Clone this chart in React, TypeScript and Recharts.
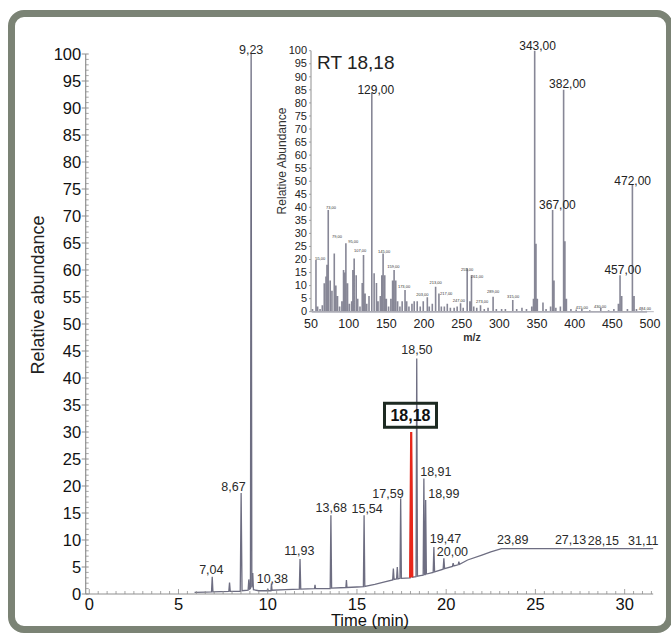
import React from "react";
import { ComposedChart, Line, Scatter, XAxis, YAxis } from "recharts";

const W = 671;
const H = 634;

// ---- chromatogram (time in min, relative abundance %) ----
const traceTime = [
  5.9, 6.5, 6.85, 6.89, 6.93, 7.82, 7.86, 7.9, 8.46, 8.51, 8.56, 8.9, 8.94, 8.98,
  9.03, 9.07, 9.11, 9.16, 9.2, 9.5, 9.97, 10.0, 10.03, 10.18, 10.21, 10.24, 11.0,
  11.77, 11.81, 11.85, 12.62, 12.65, 12.68, 13.5, 13.54, 13.58, 14.38, 14.41, 14.44,
  15.0, 15.36, 15.4, 15.44, 16.0, 16.5, 17.0, 17.04, 17.08, 17.22, 17.26, 17.3,
  17.41, 17.45, 17.49, 17.98, 18.04, 18.1, 18.31, 18.35, 18.39, 18.55, 18.71, 18.75,
  18.79, 18.82, 18.85, 18.89, 19.27, 19.31, 19.35, 19.83, 19.87, 19.91, 20.35, 20.39,
  20.43, 20.67, 20.71, 20.75, 21.2, 22.0, 22.5, 23.1, 31.6,
];
const traceAbund = [
  0.3, 0.35, 0.4, 3.2, 0.4, 0.5, 2.1, 0.5, 0.5, 18.7, 0.6, 0.7, 2.7, 0.9,
  1.0, 100, 1.2, 3.9, 0.8, 0.6, 0.6, 1.0, 0.6, 0.6, 2.0, 0.7, 0.8,
  0.9, 6.5, 0.9, 1.0, 1.7, 1.0, 1.0, 14.6, 1.1, 1.2, 2.6, 1.2,
  1.3, 1.35, 14.6, 1.4, 1.8, 2.2, 2.6, 4.7, 2.7, 2.8, 5.0, 2.8,
  2.9, 17.7, 2.9, 3.0, 30.0, 3.1, 3.2, 43.6, 3.3, 3.4, 3.5, 21.4,
  3.6, 3.6, 17.4, 3.7, 4.0, 8.7, 4.1, 4.6, 6.6, 4.7, 5.1, 5.7,
  5.2, 5.4, 6.0, 5.5, 6.3, 7.2, 7.8, 8.4, 8.4,
];

// peak at RT 18,18 highlighted in red
const redTime = [17.98, 18.04, 18.1];
const redAbund = [3.0, 30.0, 3.1];

// peak labels, placed just above the point given
const peakLabels = [
  "7,04", "8,67", "9,23", "10,38", "11,93", "13,68", "15,54", "17,59", "18,50",
  "18,91", "18,99", "19,47", "20,00", "23,89", "27,13", "28,15", "31,11",
];
const peakLabelTime = [
  6.84, 8.08, 9.07, 10.26, 11.77, 13.56, 15.57, 16.74, 18.36,
  19.42, 19.87, 19.96, 20.35, 23.73, 26.97, 28.81, 31.04,
];
const peakLabelAbund = [
  3.3, 18.6, 99.6, 1.5, 6.7, 14.7, 14.6, 17.4, 43.9,
  21.4, 17.4, 9.0, 6.5, 8.8, 8.8, 8.7, 8.6,
];
const boxedLabel = { t: 18.0, ab: 33.1, label: "18,18" };

const mainYTicks = Array.from({ length: 101 }, (_, i) => i);
const mainXTicks = Array.from({ length: 64 }, (_, i) => i * 0.5);

// ---- mass spectrum at RT 18,18 (m/z, relative abundance %) ----
const msMz = [
  52, 56.6, 58.8, 62, 65, 67.6, 69.9, 71.2, 72.9, 75.5, 77.8, 80.9, 83, 85.2, 88, 91,
  93.2, 94.8, 96.3, 98.5, 101, 104, 105.6, 107.3, 110, 112, 115, 118, 119.7, 121.8,
  124, 127, 130.7, 133.8, 136.9, 139, 142, 144, 145.7, 147.9, 150, 153, 156, 158.3,
  160.3, 162.5, 165, 168, 171, 174.8, 177, 180, 184, 187, 191, 195, 199, 204.4, 207,
  211, 215.4, 219.8, 223, 227, 230.9, 235, 240, 244, 248.5, 252, 257.3, 260.9, 263,
  266, 270, 275, 280, 285, 291.7, 296, 303, 308, 317.8, 323, 330, 336, 343, 345.3,
  346.9, 348.6, 350.4, 357.9, 362, 368, 370.7, 372.5, 375, 381, 385.3, 387, 389, 395,
  402, 409.5, 420, 434.6, 445, 452, 458, 460.2, 462.4, 470, 476.6, 478.8, 482, 488.9,
  495,
];
const msInt = [
  1, 19.8, 2, 1, 2.5, 10.9, 13.5, 18, 39, 12, 8, 22.3, 10, 6, 2, 4,
  16, 15, 26.2, 10.9, 3, 4, 16, 20.4, 14, 5, 2, 11, 21.7, 7,
  3, 6, 84, 14.7, 11, 4, 6, 14, 22.3, 14, 5, 2, 5, 12,
  16, 12, 4, 2, 4, 8.3, 4, 2, 3, 4, 4, 2, 4, 5.5, 2,
  3, 9.6, 7, 2, 2, 3, 1.5, 1.5, 2, 3.2, 1.5, 16.6, 4, 14,
  2, 1.5, 2.5, 1, 1.5, 5.7, 1, 1, 1, 4.5, 1, 1.5, 1, 2, 5,
  100, 26, 5, 3.5, 1, 2, 39, 12, 1.5, 2, 85, 27, 5, 1,
  0.8, 1, 0.6, 1.5, 0.6, 1, 3, 14, 6, 1, 48.5, 6, 1, 0.5,
  0.3,
];

const msMajorLabels = ["129,00", "343,00", "382,00", "367,00", "472,00", "457,00"];
const msMajorMz = [136, 350.8, 390.3, 377.1, 477, 463.8];
const msMajorInt = [82.2, 99.1, 84.5, 38.2, 47.7, 13.5];

const msMinorLabels = [
  "55,00", "73,00", "79,00", "95,00", "107,00", "145,00", "159,00", "173,00", "203,00",
  "213,00", "217,00", "247,00", "255,00", "261,00", "273,00", "289,00", "315,00",
  "415,00", "430,00", "484,00",
];
const msMinorMz = [
  62.3, 76.5, 84.4, 106, 115.3, 147, 159.4, 173.5, 197.8,
  215.4, 229.5, 246.3, 257.3, 270.6, 277.2, 291.7, 318.2,
  409.5, 433.8, 493.3,
];
const msMinorInt = [
  19.1, 38.6, 27.4, 25.7, 21.9, 21.6, 15.9, 8.2, 5.3,
  9.9, 5.7, 2.9, 14.9, 12.1, 2.5, 6.3, 4.4,
  0.3, 0.6, 0,
];

const msYTicks = Array.from({ length: 21 }, (_, i) => i * 5);
const msXTicks = [50, 100, 150, 200, 250, 300, 350, 400, 450, 500];

const FONT = "'Liberation Sans', Arial, sans-serif";
const TRACE = "#6e6e82";
const STICK = "#878796";
const AXIS = "#8f8f8f";

const traceData = traceTime.map((t, i) => ({ t, ab: traceAbund[i] }));
const redData = redTime.map((t, i) => ({ t, ab: redAbund[i] }));
const peakLabelData = peakLabels.map((label, i) => ({ t: peakLabelTime[i], ab: peakLabelAbund[i], label }));

// each stick is drawn as baseline -> top -> baseline
const msData = msMz.flatMap((mz, i) => [
  { mz, int: 0 },
  { mz, int: msInt[i] },
  { mz, int: 0 },
]);
const msMajorData = msMajorLabels.map((label, i) => ({ mz: msMajorMz[i], int: msMajorInt[i], label }));
const msMinorData = msMinorLabels.map((label, i) => ({ mz: msMinorMz[i], int: msMinorInt[i], label }));

const MainYTick = (p: any) => {
  const { x, y, payload } = p;
  const v = payload.value;
  if (v % 5 !== 0) {
    return <line x1={x} x2={x + 3} y1={y} y2={y} stroke={AXIS} strokeWidth={0.8} />;
  }
  return (
    <g>
      <line x1={x - 4} x2={x + 3} y1={y} y2={y} stroke={AXIS} strokeWidth={1} />
      <text x={x - 4.5} y={y} dy="0.36em" textAnchor="end" fontSize={16.5} fill="#111" fontFamily={FONT}>
        {v}
      </text>
    </g>
  );
};

const MainXTick = (p: any) => {
  const { x, y, payload } = p;
  const v = payload.value;
  const major = v % 5 === 0;
  return (
    <g>
      <line x1={x} x2={x} y1={y} y2={y - (major ? 5 : 3)} stroke={AXIS} strokeWidth={0.8} />
      {major && (
        <text x={x} y={y + 15.5} textAnchor="middle" fontSize={16.5} fill="#111" fontFamily={FONT}>
          {v}
        </text>
      )}
    </g>
  );
};

const MsYTick = (p: any) => {
  const { x, y, payload } = p;
  return (
    <g>
      <line x1={x - 2} x2={x} y1={y} y2={y} stroke={AXIS} strokeWidth={0.8} />
      <text x={x - 4} y={y} dy="0.34em" textAnchor="end" fontSize={11} fill="#222" fontFamily={FONT}>
        {payload.value}
      </text>
    </g>
  );
};

const MsXTick = (p: any) => {
  const { x, y, payload } = p;
  return (
    <text x={x} y={y + 11.8} dy="0.36em" textAnchor="middle" fontSize={12.5} fill="#222" fontFamily={FONT}>
      {payload.value}
    </text>
  );
};

const peakLabel = (p: any) => (
  <text x={p.cx} y={p.cy - 7} dy="0.36em" textAnchor="middle" fontSize={12.5} fill="#2a2a2a" fontFamily={FONT}>
    {p.payload.label}
  </text>
);

const boxLabel = (p: any) => (
  <g>
    <rect x={p.cx - 26} y={p.cy - 12} width={52} height={24} fill="none" stroke="#1d2a22" strokeWidth={3} />
    <text x={p.cx} y={p.cy} dy="0.36em" textAnchor="middle" fontSize={16} fontWeight="bold" fill="#111" fontFamily={FONT}>
      {p.payload.label}
    </text>
  </g>
);

const msMajorLabel = (p: any) => (
  <text x={p.cx} y={p.cy - 7} dy="0.36em" textAnchor="middle" fontSize={12} fill="#222" fontFamily={FONT}>
    {p.payload.label}
  </text>
);

const msMinorLabel = (p: any) => (
  <text x={p.cx} y={p.cy - 3.5} dy="0.36em" textAnchor="middle" fontSize={4} fill="#333" fontFamily={FONT}>
    {p.payload.label}
  </text>
);

export default function App() {
  return (
    <div style={{ position: "absolute", left: 0, top: 0, width: W, height: H, overflow: "hidden", background: "#fff" }}>
      <div
        style={{
          position: "absolute",
          left: 8,
          top: 10,
          width: 665,
          height: 623,
          border: "7px solid #7b8375",
          borderRadius: 16,
          boxSizing: "border-box",
          background: "#fff",
        }}
      />

      {/* chromatogram */}
      <div style={{ position: "absolute", left: 0, top: 0 }}>
        <ComposedChart width={W} height={H} margin={{ top: 54, right: 17.8, bottom: 39, left: 84.7 }}>
          <XAxis
            dataKey="t"
            type="number"
            domain={[-0.2, 31.5]}
            ticks={mainXTicks}
            interval={0}
            height={1}
            tickSize={0}
            tickMargin={0}
            tickLine={false}
            tick={<MainXTick />}
            axisLine={{ stroke: AXIS, strokeWidth: 1.2 }}
          />
          <YAxis
            dataKey="ab"
            type="number"
            domain={[0, 100]}
            ticks={mainYTicks}
            interval={0}
            width={1}
            tickSize={0}
            tickMargin={0}
            tickLine={false}
            tick={<MainYTick />}
            axisLine={{ stroke: AXIS, strokeWidth: 1.2 }}
          />
          <Line data={traceData} dataKey="ab" type="linear" stroke={TRACE} strokeWidth={1.3} dot={false} isAnimationActive={false} />
          <Line data={redData} dataKey="ab" type="linear" stroke="#e8261a" strokeWidth={2.2} dot={false} isAnimationActive={false} />
          <Scatter data={peakLabelData} dataKey="ab" shape={peakLabel} isAnimationActive={false} />
          <Scatter data={[boxedLabel]} dataKey="ab" shape={boxLabel} isAnimationActive={false} />
        </ComposedChart>
      </div>

      {/* inset mass spectrum */}
      <div style={{ position: "absolute", left: 0, top: 0 }}>
        <ComposedChart width={W} height={H} margin={{ top: 50.7, right: 17.2, bottom: 321.3, left: 310 }}>
          <XAxis
            dataKey="mz"
            type="number"
            domain={[50, 505]}
            ticks={msXTicks}
            interval={0}
            height={1}
            tickSize={0}
            tickMargin={0}
            tickLine={false}
            tick={<MsXTick />}
            axisLine={{ stroke: "#b5b5bd", strokeWidth: 1 }}
          />
          <YAxis
            dataKey="int"
            type="number"
            domain={[0, 100]}
            ticks={msYTicks}
            interval={0}
            width={1}
            tickSize={0}
            tickMargin={0}
            tickLine={false}
            tick={<MsYTick />}
            axisLine={{ stroke: AXIS, strokeWidth: 1 }}
          />
          <Line data={msData} dataKey="int" type="linear" stroke={STICK} strokeWidth={1.6} dot={false} isAnimationActive={false} />
          <Scatter data={msMajorData} dataKey="int" shape={msMajorLabel} isAnimationActive={false} />
          <Scatter data={msMinorData} dataKey="int" shape={msMinorLabel} isAnimationActive={false} />
        </ComposedChart>
      </div>

      {/* axis titles */}
      <svg width={W} height={H} style={{ position: "absolute", left: 0, top: 0, pointerEvents: "none" }}>
        <text x={37.5} y={295} transform="rotate(-90 37.5 295)" textAnchor="middle" dy="0.36em" fontSize={18} fill="#222" fontFamily={FONT}>
          Relative abundance
        </text>
        <text x={370} y={620} textAnchor="middle" dy="0.36em" fontSize={16.5} fill="#111" fontFamily={FONT}>
          Time (min)
        </text>
        <text x={282} y={161} transform="rotate(-90 282 161)" textAnchor="middle" dy="0.36em" fontSize={12} fill="#333" fontFamily={FONT}>
          Relative Abundance
        </text>
        <text x={472} y={337} textAnchor="middle" dy="0.36em" fontSize={10.5} fontWeight="bold" fill="#333" fontFamily={FONT}>
          m/z
        </text>
        <text x={317} y={62} dy="0.36em" fontSize={19} fill="#222" fontFamily={FONT}>
          RT 18,18
        </text>
      </svg>
    </div>
  );
}
